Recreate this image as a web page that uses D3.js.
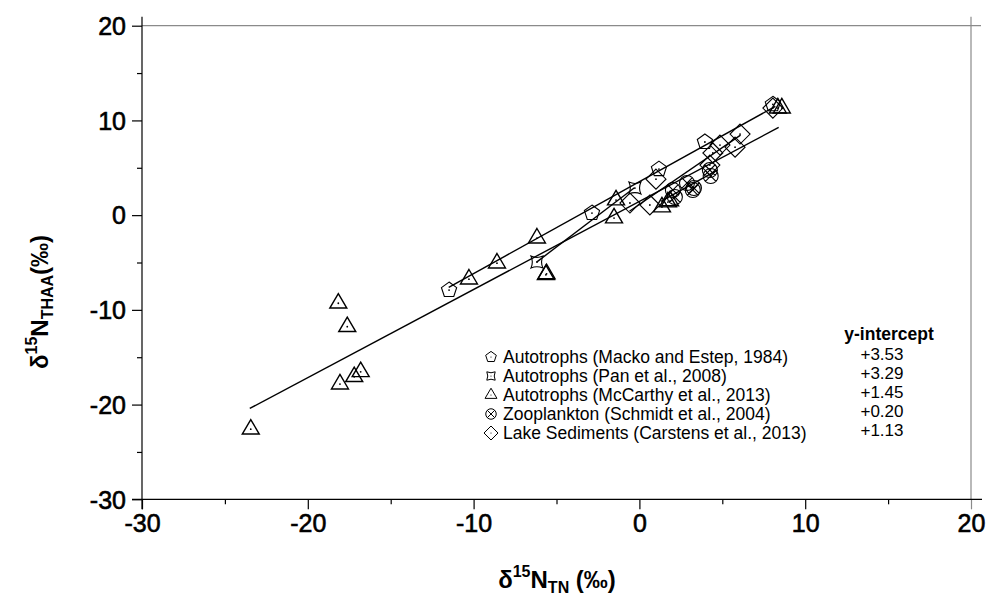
<!DOCTYPE html>
<html>
<head>
<meta charset="utf-8">
<script src="https://cdn.jsdelivr.net/npm/d3@7"></script>
<style>
  html, body { margin: 0; padding: 0; background: #fff; }
  svg { display: block; font-family: "Liberation Sans", Arial, Helvetica, sans-serif; }
</style>
</head>
<body>
<svg id="chart" width="989" height="596"></svg>
<script>
// Axis ticks
const xMajor = [-30, -20, -10, 0, 10, 20];
const yMajor = [-30, -20, -10, 0, 10, 20];
const xMinor = [-25, -15, -5, 5, 15];
const yMinor = [-25, -15, -5, 5, 15];

// δ15N_TN (x) vs δ15N_THAA (y), per data set
const mackoPts = [[-11.48, -7.91], [-2.86, 0.22], [1.18, 4.86], [3.95, 7.72], [8.05, 11.7]];
const panPts = [[-6.18, -4.96], [-0.27, 2.86]];
const mccarthyPts = [
  [-23.44, -22.6], [-18.16, -9.3], [-17.62, -11.78], [-18.06, -17.84], [-17.2, -17.06],
  [-16.81, -16.54], [-10.28, -6.76], [-8.59, -5.07], [-6.18, -2.43], [-5.64, -6.3],
  [-5.6, -6.2], [-1.41, 1.59], [-1.53, -0.31], [1.36, 0.86], [1.72, 1.38], [1.85, 1.5],
  [8.35, 11.3], [8.59, 11.3]
];
const zooPts = [[2.14, 1.91], [2.02, 2.65], [2.87, 3.39], [3.29, 2.86], [3.22, 2.65], [4.3, 4.13], [4.25, 4.76]];
const lakePts = [
  [-0.57, 1.28], [0.63, 1.07], [1.0, 3.8], [4.25, 5.29], [4.43, 6.56],
  [4.86, 7.4], [5.77, 7.18], [6.07, 8.56], [8.05, 11.3]
];

// Legend entries and regression intercepts
const seriesNames = [
  "Autotrophs (Macko and Estep, 1984)",
  "Autotrophs (Pan et al., 2008)",
  "Autotrophs (McCarthy et al., 2013)",
  "Zooplankton (Schmidt et al., 2004)",
  "Lake Sediments (Carstens et al., 2013)"
];
const seriesShapes = ["pentagon", "pinched", "triangle", "circlex", "diamond"];
const intercepts = [3.53, 3.29, 1.45, 0.20, 1.13];
const slopes = [0.97, 1.33, 0.93, 0.97, 1.2];
const fitFrom = [-11.5, -6.2, -23.5, 1.3, -0.6];
const fitTo = [8.2, -0.3, 8.4, 4.7, 6.1];

const svg = d3.select("#chart");
const plotL = 142, plotR = 971, plotT = 25.7, plotB = 499.3;
const x = d3.scaleLinear().domain([-30, 20]).range([plotL, plotR]);
const y = d3.scaleLinear().domain([-30, 20]).range([plotB, plotT]);

// tick labels use a plain hyphen for negatives
const tickFmt = d => String(d);

// frame: top/right in grey
svg.append("line").attr("x1", plotL).attr("x2", plotR + 10).attr("y1", plotT).attr("y2", plotT)
  .attr("stroke", "#8a8a8a").attr("stroke-width", 1.2);
svg.append("line").attr("x1", plotR).attr("x2", plotR).attr("y1", plotT - 9).attr("y2", plotB)
  .attr("stroke", "#8a8a8a").attr("stroke-width", 1.2);

// axes
const xAxis = d3.axisBottom(x).tickValues(xMajor).tickSize(10).tickFormat(tickFmt);
const yAxis = d3.axisLeft(y).tickValues(yMajor).tickSize(10).tickFormat(tickFmt);
const gx = svg.append("g").attr("transform", `translate(0,${plotB})`).call(xAxis);
const gy = svg.append("g").attr("transform", `translate(${plotL},0)`).call(yAxis);
[gx, gy].forEach(g => {
  g.select(".domain").remove();
  g.selectAll(".tick line").attr("stroke", "#000").attr("stroke-width", 1.2);
  g.selectAll(".tick text").attr("fill", "#000").attr("font-size", 25)
    .attr("stroke", "#000").attr("stroke-width", 0.6)
    .attr("font-family", "'Liberation Sans', Arial, sans-serif");
});
gx.selectAll(".tick text").attr("dy", "0.9em").attr("y", 10);
gy.selectAll(".tick text").attr("x", -16).attr("dy", "0.35em");
gx.selectAll(".tick").filter(d => d === 20).select("line").attr("stroke", "#8a8a8a");

const gxm = svg.append("g").attr("transform", `translate(0,${plotB})`)
  .call(d3.axisBottom(x).tickValues(xMinor).tickSize(5).tickFormat(""));
const gym = svg.append("g").attr("transform", `translate(${plotL},0)`)
  .call(d3.axisLeft(y).tickValues(yMinor).tickSize(5).tickFormat(""));
[gxm, gym].forEach(g => {
  g.select(".domain").remove();
  g.selectAll(".tick line").attr("stroke", "#000").attr("stroke-width", 1.2);
});

// axis lines (extended past the frame by the tick length)
svg.append("line").attr("x1", plotL - 10).attr("x2", plotR + 11).attr("y1", plotB).attr("y2", plotB)
  .attr("stroke", "#000").attr("stroke-width", 1.2);
svg.append("line").attr("x1", plotL).attr("x2", plotL).attr("y1", plotT - 9).attr("y2", plotB + 10)
  .attr("stroke", "#000").attr("stroke-width", 1.2);

// regression lines
const fitGroup = svg.append("g");
intercepts.forEach((b, i) => {
  const m = slopes[i];
  fitGroup.append("line")
    .attr("x1", x(fitFrom[i])).attr("y1", y(b + m * fitFrom[i]))
    .attr("x2", x(fitTo[i])).attr("y2", y(b + m * fitTo[i]))
    .attr("stroke", "#000").attr("stroke-width", 1.4);
});

// marker shapes
function shapePath(type, s) {
  if (type === "triangle") {
    const w = 17 * s, h = 14.5 * s;
    return `M0,${-2 * h / 3}L${w / 2},${h / 3}L${-w / 2},${h / 3}Z`;
  }
  if (type === "pentagon") {
    const r = 8 * s;
    const pts = d3.range(5).map(k => {
      const a = -Math.PI / 2 + k * 2 * Math.PI / 5;
      return [r * Math.cos(a), r * Math.sin(a)];
    });
    return "M" + pts.map(p => p.join(",")).join("L") + "Z";
  }
  if (type === "diamond") {
    const r = 10 * s;
    return `M0,${-r}L${r},0L0,${r}L${-r},0Z`;
  }
  if (type === "pinched") {
    const a = 6 * s, c = 3.2 * s;
    return `M${-a},${-a}Q0,${-c} ${a},${-a}Q${c},0 ${a},${a}Q0,${c} ${-a},${a}Q${-c},0 ${-a},${-a}Z`;
  }
  if (type === "circlex") {
    const r = 7.5 * s, d = r * Math.SQRT1_2;
    return `M${r},0A${r},${r} 0 1,1 ${-r},0A${r},${r} 0 1,1 ${r},0Z` +
      `M${-d},${-d}L${d},${d}M${d},${-d}L${-d},${d}`;
  }
  return "";
}

function drawMarkers(data, type) {
  const g = svg.append("g");
  const m = g.selectAll("g").data(data).join("g")
    .attr("transform", d => `translate(${x(d[0])},${y(d[1])})`);
  m.append("path").attr("d", shapePath(type, 1))
    .attr("fill", "none").attr("stroke", "#000")
    .attr("stroke-width", type === "triangle" ? 1.4 : 1.1);
  m.append("circle").attr("r", 0.9).attr("fill", "#000");
}

drawMarkers(lakePts, "diamond");
drawMarkers(zooPts, "circlex");
drawMarkers(mackoPts, "pentagon");
drawMarkers(panPts, "pinched");
drawMarkers(mccarthyPts, "triangle");

// legend
const legX = 491, legY0 = 357, legDy = 19;
const leg = svg.append("g");
seriesNames.forEach((name, i) => {
  const yy = legY0 + i * legDy;
  leg.append("path").attr("transform", `translate(${legX},${yy})`)
    .attr("d", shapePath(seriesShapes[i], 0.7))
    .attr("fill", "none").attr("stroke", "#000").attr("stroke-width", 1);
  leg.append("circle").attr("cx", legX).attr("cy", yy).attr("r", 0.6).attr("fill", "#000");
  leg.append("text").attr("x", legX + 12).attr("y", yy).attr("dy", "0.36em")
    .attr("font-size", 17.5).attr("fill", "#000").text(name);
  leg.append("text").attr("x", 882).attr("y", yy - 3).attr("dy", "0.36em")
    .attr("text-anchor", "middle").attr("font-size", 17).attr("fill", "#000")
    .text("+" + d3.format(".2f")(intercepts[i]));
});
leg.append("text").attr("x", 889).attr("y", legY0 - 23).attr("dy", "0.36em")
  .attr("text-anchor", "middle").attr("font-size", 17.5).attr("font-weight", "bold")
  .text("y-intercept");

// axis titles
const xt = svg.append("text").attr("x", 557).attr("y", 588).attr("text-anchor", "middle")
  .attr("font-size", 24).attr("font-weight", "bold");
xt.append("tspan").text("δ");
xt.append("tspan").attr("font-size", 16).attr("dy", -11).text("15");
xt.append("tspan").attr("dy", 11).text("N");
xt.append("tspan").attr("font-size", 16).attr("dy", 5).text("TN");
xt.append("tspan").attr("dy", -5).text(" (‰)");

const yt = svg.append("text").attr("transform", "translate(48,302) rotate(-90)")
  .attr("text-anchor", "middle").attr("font-size", 24).attr("font-weight", "bold");
yt.append("tspan").text("δ");
yt.append("tspan").attr("font-size", 16).attr("dy", -11).text("15");
yt.append("tspan").attr("dy", 11).text("N");
yt.append("tspan").attr("font-size", 16).attr("dy", 5).text("THAA");
yt.append("tspan").attr("dy", -5).text("(‰)");
</script>
</body>
</html>
